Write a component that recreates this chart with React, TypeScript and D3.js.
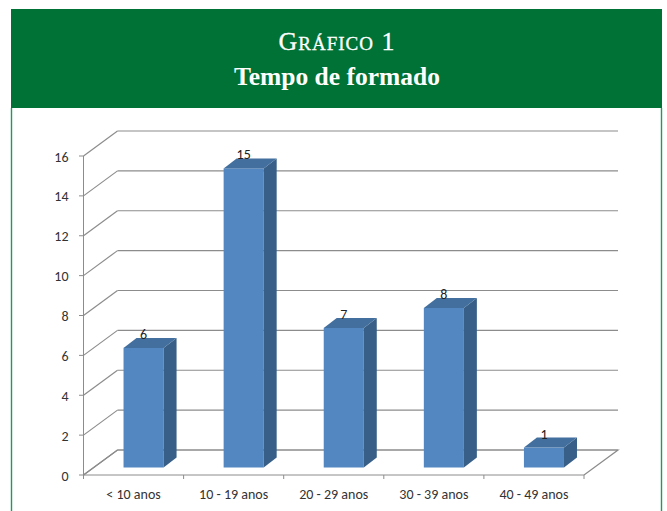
import * as d3 from 'd3'

const categories = ['< 10 anos', '10 - 19 anos', '20 - 29 anos', '30 - 39 anos', '40 - 49 anos']
const values = [6, 15, 7, 8, 1]
const yTicks = [0, 2, 4, 6, 8, 10, 12, 14, 16]

const width = 667
const height = 511
const depthX = 34
const depthY = -25
const barDepthX = 13
const barDepthY = -10
const barShift = 10

const xStep = d3.scaleBand<string>().domain(categories).range([83.5, 584])
const x = d3.scaleBand<string>().domain(categories).range([83.5 + barShift, 584 + barShift]).paddingInner(0.6).paddingOuter(0.3)
const y = d3.scaleLinear().domain([0, 16]).range([475, 156])

const floor = d3.line()([
  [xStep.range()[0], y(0)],
  [xStep.range()[0] + depthX, y(0) + depthY],
  [xStep.range()[1] + depthX, y(0) + depthY],
  [xStep.range()[1], y(0)],
])

export default function App() {
  const baseY = y(0) - 7.5
  const unit = y(0) - y(1)
  return (
    <svg width={width} height={height} style={{ position: 'absolute', left: 0, top: 0 }} fontFamily="Carlito, Lato, 'Open Sans', sans-serif">
      <rect width={width} height={height} fill="#fff" />
      <rect x={11} y={9} width={651} height={99} fill="#007236" />
      <line x1={11.5} x2={11.5} y1={108} y2={511} stroke="#1f9a5c" strokeWidth={1.4} />
      <line x1={661.5} x2={661.5} y1={108} y2={511} stroke="#1f9a5c" strokeWidth={1.4} />
      <text x={337} y={50} textAnchor="middle" fill="#fff" fontFamily="'Liberation Serif', serif" fontSize={26} letterSpacing={1} stroke="#fff" strokeWidth={0.3}>
        G<tspan fontSize={19}>RÁFICO</tspan> 1
      </text>
      <text x={337} y={85} textAnchor="middle" fill="#fff" fontFamily="'Liberation Serif', serif" fontSize={25.5} fontWeight={700}>
        Tempo de formado
      </text>

      {/* back wall gridlines and their slanted side lines */}
      {yTicks.map((t) => (
        <g key={t} stroke="#8c8c8c" strokeWidth={1.2} fill="none">
          <line x1={83.5 + depthX} x2={584 + depthX} y1={y(t) + depthY} y2={y(t) + depthY} />
          <line x1={83.5} x2={83.5 + depthX} y1={y(t)} y2={y(t) + depthY} />
        </g>
      ))}
      <path d={floor ?? ''} fill="none" stroke="#8c8c8c" strokeWidth={1.2} />

      {/* axes */}
      <line x1={83.5} x2={83.5} y1={y(16)} y2={y(0)} stroke="#8c8c8c" />
      <line x1={83.5} x2={584} y1={y(0)} y2={y(0)} stroke="#8c8c8c" />
      {yTicks.map((t) => (
        <g key={t}>
          <line x1={79} x2={83.5} y1={y(t)} y2={y(t)} stroke="#8c8c8c" />
          <text x={68.5} y={y(t) + 5.5} textAnchor="end" fontSize={14} fill="#333">{t}</text>
        </g>
      ))}
      {categories.map((c, i) => (
        <line key={c} x1={83.5 + i * xStep.step()} x2={83.5 + i * xStep.step()} y1={y(0)} y2={y(0) + 4} stroke="#8c8c8c" />
      ))}
      <line x1={584} x2={584} y1={y(0)} y2={y(0) + 4} stroke="#8c8c8c" />
      {categories.map((c) => (
        <text key={c} x={(xStep(c) ?? 0) + xStep.bandwidth() / 2} y={498.5} textAnchor="middle" fontSize={14} fill="#333">{c}</text>
      ))}

      {/* bars */}
      {categories.map((c, i) => {
        const bx = x(c) ?? 0
        const bw = x.bandwidth()
        const top = baseY - values[i] * unit
        const side = d3.line()([
          [bx + bw, top],
          [bx + bw + barDepthX, top + barDepthY],
          [bx + bw + barDepthX, baseY + barDepthY],
          [bx + bw, baseY],
        ])
        const cap = d3.line()([
          [bx, top],
          [bx + barDepthX, top + barDepthY],
          [bx + bw + barDepthX, top + barDepthY],
          [bx + bw, top],
        ])
        return (
          <g key={c}>
            <rect x={bx} y={top} width={bw} height={baseY - top} fill="#5287c2" />
            <path d={`${side}Z`} fill="#375f87" />
            <path d={`${cap}Z`} fill="#426f9e" />
            <text x={bx + bw / 2} y={top - 9} textAnchor="middle" fontSize={14} fill="#222">{values[i]}</text>
          </g>
        )
      })}
    </svg>
  )
}
